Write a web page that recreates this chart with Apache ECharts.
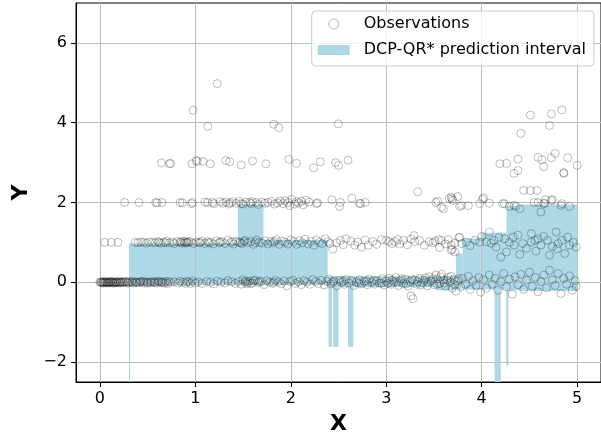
<!DOCTYPE html>
<html>
<head>
<meta charset="utf-8">
<script src="https://cdn.jsdelivr.net/npm/echarts@6/dist/echarts.min.js"></script>
<style>
  html, body { margin: 0; padding: 0; background: #fff; }
  #chart { width: 601px; height: 440px; }
</style>
</head>
<body>
<div id="chart"></div>
<script>
// Tick positions
const xTicks = [0, 1, 2, 3, 4, 5];
const yTicks = [-2, 0, 2, 4, 6];

// Observations, grouped by the level they sit around
const obsLevel0 = [
  [0.00,0.00],[0.01,0.01],[0.02,-0.01],[0.03,0.00],[0.04,0.02],[0.05,-0.01],[0.06,0.00],[0.07,0.01],
  [0.08,-0.02],[0.09,0.00],[0.10,0.01],[0.11,-0.01],[0.12,0.00],[0.13,0.02],[0.14,-0.02],[0.15,0.00],
  [0.16,0.01],[0.17,-0.01],[0.18,0.00],[0.20,0.02],[0.21,-0.02],[0.22,0.00],[0.24,0.01],[0.25,-0.01],
  [0.27,0.00],[0.28,0.02],[0.30,-0.01],[0.31,0.01],
  [0.015,0.00],[0.035,-0.02],[0.055,0.01],[0.075,0.00],[0.095,-0.01],[0.115,0.02],[0.135,0.00],
  [0.155,-0.02],[0.175,0.01],[0.195,-0.01],[0.215,0.01],[0.235,0.00],[0.26,0.02],[0.29,-0.02],
  [0.33,0.00],[0.35,-0.02],[0.37,0.01],[0.39,0.00],[0.41,-0.01],[0.43,0.02],[0.45,0.00],[0.47,-0.02],
  [0.49,0.01],[0.51,0.00],[0.54,-0.01],[0.56,0.02],[0.58,0.00],[0.60,-0.02],[0.62,0.01],[0.64,0.00],
  [0.66,-0.01],[0.69,0.02],[0.71,-0.03],[0.74,0.00],[0.78,0.01],[0.82,-0.02],[0.84,0.02],[0.87,0.00],
  [0.90,-0.03],[0.93,0.01],[0.97,0.03],[1.00,-0.02],
  [0.34,0.02],[0.38,-0.01],[0.42,0.01],[0.46,0.03],[0.50,-0.02],[0.53,0.01],[0.57,-0.01],[0.61,0.03],
  [0.65,0.01],[0.68,-0.02],[0.72,0.02],[0.91,0.02],[0.95,-0.03],
  [1.03,0.01],[1.07,-0.03],[1.12,0.02],[1.16,0.00],[1.19,-0.04],[1.23,0.03],[1.27,0.00],[1.31,-0.02],
  [1.34,0.04],[1.38,0.01],[1.42,-0.03],[1.45,0.02],[1.48,-0.05],[1.50,0.06],[1.52,0.00],[1.54,-0.04],
  [1.57,0.03],[1.60,-0.02],[1.63,0.05],[1.66,-0.01],[1.69,0.02],[1.72,-0.06],[1.75,0.04],[1.78,0.00],
  [1.81,-0.03],[1.84,0.05],[1.87,0.01],[1.90,-0.04],[1.93,0.03],[1.96,-0.09],[1.99,0.02],
  [1.53,0.03],[1.55,0.00],[1.58,-0.03],[1.61,0.04],[1.67,0.02],[1.82,0.00],
  [2.02,0.05],[2.05,-0.03],[2.08,0.01],[2.11,-0.06],[2.14,0.04],[2.17,0.00],[2.20,-0.05],[2.23,0.07],
  [2.26,0.02],[2.29,-0.03],[2.32,0.05],[2.35,-0.07],[2.38,0.02],[2.40,0.08],[2.42,-0.04],[2.45,0.03],
  [2.48,-0.09],[2.51,0.05],[2.53,0.00],[2.56,-0.05],[2.58,0.07],[2.61,-0.02],[2.64,0.04],[2.66,-0.08],
  [2.69,0.01],[2.72,0.06],[2.74,-0.04],[2.77,0.02],[2.80,-0.06],[2.82,0.08],[2.85,0.00],[2.88,-0.05],
  [2.90,0.04],[2.93,-0.02],[2.96,0.09],[2.98,-0.07],
  [2.44,0.00],[2.55,0.03],[2.71,-0.02],[2.79,0.03],[2.87,0.05],[2.95,-0.03],
  [3.00,0.03],[3.03,0.10],[3.05,-0.05],[3.08,0.01],[3.10,0.12],[3.13,-0.08],[3.15,0.04],[3.18,-0.03],
  [3.20,0.08],[3.23,-0.10],[3.25,0.02],[3.26,-0.34],[3.28,-0.41],[3.30,0.06],[3.32,-0.05],[3.35,0.10],
  [3.38,-0.02],[3.40,0.05],[3.43,-0.09],[3.45,0.14],[3.47,0.03],[3.50,-0.06],[3.52,0.18],[3.54,0.08],
  [3.56,-0.03],[3.58,0.20],[3.60,0.05],[3.62,-0.10],[3.65,0.12],[3.67,0.00],[3.69,-0.15],[3.71,0.07],
  [3.73,-0.22],[3.75,0.03],[3.78,-0.12],[3.80,0.10],[3.83,-0.05],[3.86,0.15],[3.88,-0.18],[3.91,0.04],
  [3.94,-0.08],[3.97,0.12],[3.99,-0.25],
  [3.02,-0.03],[3.06,0.05],[3.11,0.00],[3.16,0.09],[3.21,-0.04],[3.27,0.07],[3.33,0.01],[3.36,-0.07],
  [3.41,0.11],[3.44,0.00],[3.49,0.08],[3.53,-0.05],[3.57,0.13],[3.61,-0.02],[3.64,0.06],[3.68,0.15],
  [3.72,-0.06],[3.76,0.09],
  [4.02,0.06],[4.05,-0.15],[4.08,0.18],[4.11,-0.05],[4.14,0.10],[4.17,-0.20],[4.20,0.02],[4.23,0.22],
  [4.26,-0.12],[4.29,0.08],[4.32,-0.30],[4.35,0.14],[4.38,-0.06],[4.41,0.20],[4.44,-0.18],[4.47,0.05],
  [4.50,0.25],[4.53,-0.10],[4.56,0.12],[4.59,-0.24],[4.62,0.02],[4.65,0.18],[4.68,-0.14],[4.71,0.30],
  [4.74,0.06],[4.77,-0.08],[4.80,0.22],[4.83,-0.28],[4.86,0.10],[4.89,-0.05],[4.92,0.16],[4.95,-0.20],
  [4.98,0.04],[4.99,-0.10]
];

const obsLevel1 = [
  [0.05,1.00],[0.12,1.00],[0.19,1.00],
  [0.37,1.00],[0.40,0.99],[0.43,1.01],[0.46,1.00],[0.49,0.98],[0.52,1.01],[0.55,1.00],[0.58,0.99],
  [0.61,1.02],[0.64,0.98],[0.67,1.00],[0.70,1.03],[0.73,0.99],[0.76,1.01],[0.78,0.97],[0.81,1.02],
  [0.84,1.00],[0.86,0.98],[0.88,1.03],[0.90,1.01],[0.92,0.99],[0.95,1.02],[0.98,0.97],[1.01,1.01],
  [0.62,1.00],[0.69,0.99],[0.85,1.02],[0.89,0.98],[0.91,1.00],[0.93,1.02],[1.05,1.00],[1.14,0.99],
  [1.04,0.99],[1.07,1.03],[1.10,0.97],[1.13,1.02],[1.16,1.00],[1.19,0.96],[1.22,1.04],[1.25,0.99],
  [1.28,1.02],[1.31,0.97],[1.34,1.05],[1.37,1.00],[1.40,0.96],[1.43,1.03],[1.46,1.01],[1.49,0.97],
  [1.52,1.05],[1.55,0.99],[1.58,1.02],[1.61,0.95],[1.64,1.06],[1.67,1.00],[1.70,0.98],[1.73,1.04],
  [1.76,0.96],[1.79,1.02],[1.82,0.99],[1.85,1.07],[1.88,0.95],[1.91,1.03],[1.94,1.00],[1.97,0.96],
  [1.26,1.01],[1.39,1.02],[1.47,0.99],[1.51,1.02],[1.63,1.00],[1.83,1.03],
  [2.00,1.06],[2.03,1.02],[2.06,0.95],[2.09,1.04],[2.12,0.99],[2.15,1.08],[2.18,0.96],[2.21,1.03],
  [2.24,0.93],[2.27,1.06],[2.30,1.00],[2.33,0.97],[2.36,1.09],[2.39,1.02],[2.41,0.97],[2.44,0.83],
  [2.48,0.99],[2.52,1.05],[2.55,0.94],[2.58,1.09],[2.63,1.03],[2.67,0.93],[2.70,1.01],[2.74,0.88],
  [2.78,1.06],[2.81,0.93],[2.86,1.02],[2.90,0.95],[2.95,1.07],[3.00,1.05],
  [3.03,1.02],[3.06,0.97],[3.09,1.02],[3.12,1.07],[3.14,0.96],[3.18,1.05],[3.22,0.94],[3.26,1.08],
  [3.29,1.17],[3.30,1.02],[3.35,1.05],[3.40,0.93],[3.45,1.02],[3.49,0.99],[3.51,1.03],[3.55,1.07],
  [3.56,0.87],[3.58,1.05],[3.62,0.96],[3.65,1.07],[3.68,0.93],[3.69,0.83],[3.68,0.80],[3.72,0.98],
  [3.72,0.76],[3.76,1.12],[3.77,1.13],[3.79,0.97],
  [3.84,1.01],[3.88,0.92],[3.93,1.05],[3.98,1.01],[4.00,1.15],[4.05,1.01],[4.08,1.26],[4.10,0.98],
  [4.13,1.05],[4.15,0.88],[4.18,1.12],[4.20,0.63],[4.24,1.09],[4.26,0.76],[4.29,1.00],[4.33,1.13],
  [4.34,0.93],[4.38,1.18],[4.40,0.70],[4.43,0.97],[4.47,0.85],[4.52,1.22],[4.52,1.01],[4.56,1.05],
  [4.57,0.78],[4.59,1.09],[4.62,0.93],[4.65,1.15],[4.69,1.05],[4.71,0.68],[4.74,0.90],[4.78,1.26],
  [4.79,0.84],[4.80,0.97],[4.84,1.05],[4.87,0.72],[4.90,1.13],[4.92,0.93],[4.96,1.00],[4.99,0.88]
];

const obsLevel2 = [
  [0.26,2.00],[0.41,2.00],[0.585,2.00],[0.60,1.99],[0.65,2.00],[0.84,2.00],[0.865,1.99],[0.96,1.97],
  [0.97,2.00],[1.10,2.01],[1.13,2.00],[1.18,2.00],[1.195,1.97],[1.26,2.02],[1.29,1.98],[1.32,2.01],
  [1.35,1.96],[1.365,1.99],[1.39,2.02],[1.43,1.98],[1.46,2.03],[1.48,1.97],[1.50,1.96],[1.53,2.01],
  [1.57,2.00],[1.585,1.97],[1.60,2.02],[1.64,2.00],[1.66,1.95],[1.70,2.01],[1.73,1.98],[1.76,2.00],
  [1.80,2.03],[1.83,1.96],[1.86,1.99],[1.89,2.04],[1.92,1.97],[1.94,2.05],[1.97,2.00],[1.99,1.92],
  [2.01,2.08],[2.04,1.96],[2.06,2.02],[2.08,1.99],[2.11,2.03],[2.13,1.94],[2.16,2.06],[2.19,2.01],
  [2.27,1.97],[2.28,1.99],[2.43,2.07],[2.51,1.90],[2.52,2.00],[2.64,2.11],[2.72,1.98],[2.73,1.97],
  [2.78,2.00],[3.33,2.27],[3.52,2.00],[3.54,2.03],[3.58,1.88],[3.60,1.84],[3.66,2.10],[3.68,2.13],
  [3.69,2.09],[3.70,2.05],[3.75,2.15],[3.77,1.90],[3.79,1.93],[3.86,1.92],[3.98,1.97],[4.01,2.08],
  [4.02,2.12],[4.08,1.98],[4.22,1.97],[4.24,1.97],[4.29,1.90],[4.34,1.93],[4.36,1.90],[4.40,1.84],
  [4.44,2.30],[4.51,2.30],[4.58,2.30],[4.55,2.00],[4.59,2.00],[4.62,1.76],[4.65,1.97],[4.66,1.98],
  [4.67,2.07],[4.73,2.05],[4.74,2.07],[4.83,1.93],[4.84,1.97],[4.92,1.90]
];

const obsUpper = [
  [0.645,2.99],[0.73,2.97],[0.74,2.98],[0.965,2.97],[1.01,3.05],[1.02,3.03],[1.08,3.03],[1.157,2.97],
  [1.32,3.05],[1.36,3.02],[1.48,2.94],[1.60,3.04],[1.74,2.97],[1.98,3.08],[2.06,2.98],[2.24,2.87],
  [2.31,3.02],[2.47,3.00],[2.50,2.93],[2.60,3.06],
  [4.19,2.97],[4.26,2.98],[4.38,3.09],[4.34,2.73],[4.38,2.80],[4.59,3.13],[4.63,3.07],[4.65,2.90],
  [4.73,3.12],[4.77,3.23],[4.90,3.12],[5.00,2.93],[4.86,2.73],[4.86,2.75],
  [0.976,4.31],[1.13,3.91],[1.23,4.98],[1.82,3.96],[1.875,3.875],[2.50,3.97],[4.41,3.73],[4.51,4.19],
  [4.73,4.22],[4.84,4.32],[4.71,3.93]
];

// Prediction interval as piecewise-constant segments
const bandStart = [0.305, 0.31, 1.446, 1.714, 2.387, 2.396, 2.445, 2.60, 3.52, 3.73, 3.80, 3.99, 4.135, 4.257, 4.26, 4.40];
const bandEnd   = [0.316, 1.446, 1.714, 2.387, 3.52, 2.431, 2.50, 2.655, 3.73, 3.80, 3.99, 4.26, 4.20, 4.28, 4.40, 5.00];
const bandLow   = [-2.5, -0.06, -0.06, -0.06, -0.12, -1.62, -1.62, -1.62, -0.20, -0.18, -0.18, -0.18, -2.5, -2.08, -0.20, -0.22];
const bandHigh  = [0.98, 0.98, 1.95, 1.06, 0.15, 0.15, 0.15, 0.15, 0.15, 0.72, 1.10, 1.24, 1.24, 1.24, 1.92, 1.95];

const observations = obsLevel0.concat(obsLevel1, obsLevel2, obsUpper);
const bandData = bandStart.map((s, i) => [s, bandEnd[i], bandLow[i], bandHigh[i]]);

const FONT = 'DejaVu Sans';
const minusSign = v => String(v).replace('-', '\u2212');
const chart = echarts.init(document.getElementById('chart'), null, { renderer: 'canvas' });

chart.setOption({
  animation: false,
  backgroundColor: '#ffffff',
  grid: {
    left: 76, top: 3, width: 526, height: 379,
    show: true, borderColor: '#000', borderWidth: 1, backgroundColor: 'transparent'
  },
  legend: {
    right: 7, top: 11,
    orient: 'vertical',
    itemWidth: 32, itemHeight: 10, itemGap: 10,
    padding: [5, 8, 8, 6],
    backgroundColor: 'rgba(255,255,255,0.8)',
    borderColor: '#cccccc', borderWidth: 1, borderRadius: 4,
    textStyle: { fontFamily: FONT, fontSize: 16, color: '#000', padding: [0, 0, 0, 9] },
    data: [
      { name: 'Observations', icon: 'circle',
        itemStyle: { color: 'transparent', borderColor: 'rgba(0,0,0,0.35)', borderWidth: 1 } },
      { name: 'DCP-QR* prediction interval', icon: 'rect',
        itemStyle: { color: '#add8e6', borderWidth: 0 } }
    ]
  },
  xAxis: {
    type: 'value', min: -0.25, max: 5.25, z: 2.5,
    name: 'X', nameLocation: 'middle', nameGap: 31,
    nameTextStyle: { fontFamily: FONT, fontSize: 22, fontWeight: 'bold', color: '#000' },
    axisLine: { show: true, onZero: false, lineStyle: { color: '#000', width: 1 } },
    axisTick: { show: true, inside: false, length: 5, customValues: xTicks, lineStyle: { color: '#000' } },
    axisLabel: { customValues: xTicks, margin: 9, fontFamily: FONT, fontSize: 16, color: '#000', formatter: minusSign },
    splitLine: { show: true, lineStyle: { color: '#bdbdbd', width: 1 } }
  },
  yAxis: {
    type: 'value', min: -2.5, max: 7, z: 2.5,
    name: 'Y', nameLocation: 'middle', nameGap: 41, nameRotate: 90,
    nameTextStyle: { fontFamily: FONT, fontSize: 22, fontWeight: 'bold', color: '#000' },
    axisLine: { show: true, onZero: false, lineStyle: { color: '#000', width: 1 } },
    axisTick: { show: true, inside: false, length: 5, customValues: yTicks, lineStyle: { color: '#000' } },
    axisLabel: { customValues: yTicks, margin: 9, fontFamily: FONT, fontSize: 16, color: '#000', formatter: minusSign },
    splitLine: { show: true, lineStyle: { color: '#bdbdbd', width: 1 } }
  },
  series: [
    {
      name: 'DCP-QR* prediction interval',
      type: 'custom',
      clip: true,
      z: 2,
      data: bandData,
      encode: { x: [0, 1], y: [2, 3] },
      renderItem: function (params, api) {
        const p0 = api.coord([api.value(0), api.value(3)]);
        const p1 = api.coord([api.value(1), api.value(2)]);
        const w = Math.max(1, p1[0] - p0[0]);
        return {
          type: 'rect',
          shape: { x: p0[0], y: p0[1], width: w, height: p1[1] - p0[1] },
          style: { fill: '#add8e6' }
        };
      }
    },
    {
      name: 'Observations',
      type: 'scatter',
      z: 3,
      symbol: 'circle',
      symbolSize: 8,
      data: observations,
      itemStyle: { color: 'transparent', borderColor: 'rgba(0,0,0,0.32)', borderWidth: 1 },
      emphasis: { disabled: true }
    }
  ]
});
</script>
</body>
</html>
